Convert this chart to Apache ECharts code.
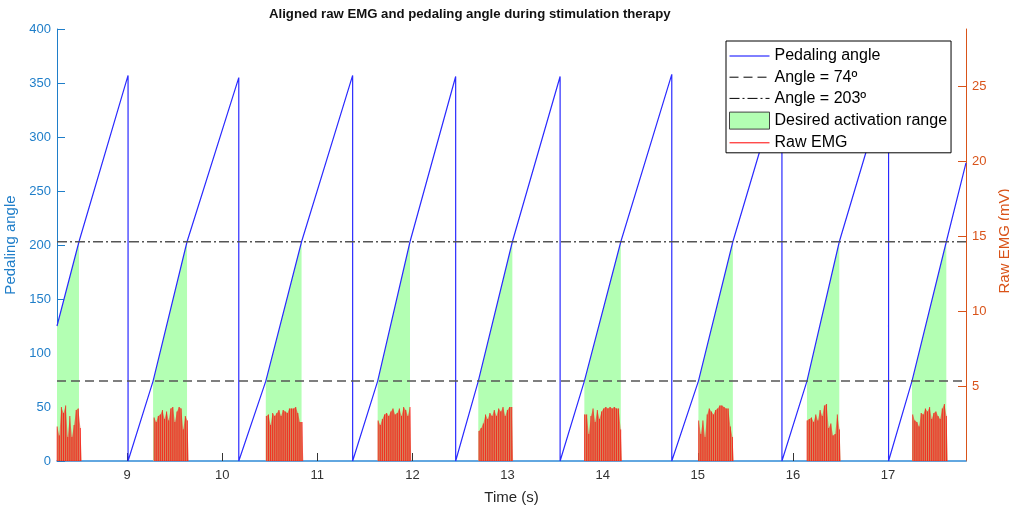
<!DOCTYPE html>
<html>
<head>
<meta charset="utf-8">
<title>Aligned raw EMG and pedaling angle</title>
<script src="https://cdn.jsdelivr.net/npm/echarts@6/dist/echarts.min.js"></script>
<style>
    body { margin: 0; background: #fff; }
    #main { width: 1009px; height: 506px; }
</style>
</head>
<body>
<div id="main"></div>
<script>
    // time axis (s)
    var xMin = 8.264, xMax = 17.82;
    var timeTicks = [9, 10, 11, 12, 13, 14, 15, 16, 17];
    var emgTicks = [5, 10, 15, 20, 25];

    // threshold angles
    var angleLow = 74, angleHigh = 203;

    // pedaling angle: start, crank resets, threshold crossings, end
    var startTime = 8.264, startAngle = 125;
    var resetTimes = [9.011, 10.175, 11.372, 12.455, 13.553, 14.727, 15.885, 17.006];
    var peakAngles = [357, 355, 357, 356, 356, 358, 356, 356];
    var crossLow = [9.274, 10.459, 11.635, 12.693, 13.808, 15.007, 16.148, 17.252];
    var crossHigh = [8.495, 9.631, 10.835, 11.975, 13.051, 14.191, 15.369, 16.488, 17.613];
    var endTime = 17.82, endAngle = 276;

    // raw EMG bursts (mV)
    var emgStart = [8.266, 9.285, 10.465, 11.64, 12.70, 13.81, 15.01, 16.15, 17.26];
    var emgEnd = [8.51, 9.635, 10.84, 11.975, 13.045, 14.19, 15.365, 16.49, 17.615];
    var emg1 = [2.3, 1.7, 3.6, 3.2, 3.7, 1.6, 3.0, 1.6, 2.4, 3.4, 3.5, 2.2];
    var emg2 = [2.9, 2.6, 3.0, 3.1, 3.4, 2.8, 3.3, 2.7, 3.5, 3.6, 2.6, 3.3, 3.6, 3.5, 2.1, 3.0, 2.7];
    var emg3 = [3.0, 3.1, 2.4, 3.2, 3.0, 3.2, 3.4, 3.0, 3.4, 3.3, 3.2, 3.5, 3.5, 3.5, 3.6, 3.2, 2.6, 2.6];
    var emg4 = [2.7, 2.4, 2.8, 3.1, 3.2, 3.0, 3.3, 3.5, 3.1, 3.2, 3.5, 3.0, 3.6, 3.4, 3.0, 3.6];
    var emg5 = [2.0, 2.2, 2.5, 3.1, 2.8, 3.2, 3.0, 3.4, 3.0, 3.5, 3.3, 3.6, 3.0, 3.4, 3.6, 3.6];
    var emg6 = [3.1, 3.1, 1.8, 3.0, 3.5, 2.6, 3.4, 2.8, 3.3, 3.5, 3.6, 3.5, 3.6, 3.5, 3.6, 3.5, 3.5, 2.1];
    var emg7 = [2.7, 1.8, 2.7, 1.6, 3.1, 3.5, 3.3, 3.1, 3.4, 3.5, 3.7, 3.7, 3.6, 3.5, 3.5, 2.3, 1.6];
    var emg8 = [2.7, 2.8, 2.9, 2.6, 3.1, 2.7, 3.4, 3.0, 3.7, 3.8, 2.2, 2.5, 1.7, 1.8, 3.1, 2.1];
    var emg9 = [3.1, 2.7, 2.6, 2.3, 3.2, 3.1, 3.5, 3.3, 3.6, 2.8, 3.2, 3.3, 3.0, 2.8, 3.5, 3.8, 3.0];
    var emgBursts = [emg1, emg2, emg3, emg4, emg5, emg6, emg7, emg8, emg9];

    var font = 'Liberation Sans, Arial, Helvetica, sans-serif';

    // build the series data
    var angleData = [[startTime, startAngle], [crossHigh[0], angleHigh]];
    for (var k = 0; k < resetTimes.length; k++) {
        angleData.push([resetTimes[k], peakAngles[k]]);
        angleData.push([resetTimes[k], 0]);
        angleData.push([crossLow[k], angleLow]);
        angleData.push([crossHigh[k + 1], angleHigh]);
    }
    angleData.push([endTime, endAngle]);

    var rangeData = [[startTime, startAngle], [crossHigh[0], angleHigh], [crossHigh[0], null]];
    for (var k = 0; k < crossLow.length; k++) {
        rangeData.push([crossLow[k], angleLow]);
        rangeData.push([crossHigh[k + 1], angleHigh]);
        rangeData.push([crossHigh[k + 1], null]);
    }

    // spikes as vertical strokes, plus a filled envelope under them
    var emgSpikes = [];
    var emgEnvelope = [];
    for (var b = 0; b < emgBursts.length; b++) {
        var h = emgBursts[b];
        var dt = (emgEnd[b] - emgStart[b]) / (h.length - 1);
        emgEnvelope.push([emgStart[b], 0]);
        for (var i = 0; i < h.length; i++) {
            var t = emgStart[b] + i * dt;
            emgSpikes.push([t, 0], [t, h[i]], [t, 0]);
            emgEnvelope.push([t, h[i]], [t + dt * 0.6, h[i]]);
        }
        var tEnd = emgEnd[b] + dt * 0.6;
        emgSpikes.push([tEnd, 0], [tEnd, null]);
        emgEnvelope.push([tEnd, 0], [tEnd, null]);
    }

    var hideSymbol = { opacity: 0 };

    var myChart = echarts.init(document.getElementById('main'));

    var option = {
        animation: false,
        title: {
            text: 'Aligned raw EMG and pedaling angle during stimulation therapy',
            left: 269,
            top: 8,
            padding: 0,
            textStyle: { fontFamily: font, fontSize: 13.2, fontWeight: 'bold', color: '#111' }
        },
        grid: { left: 57, right: 43, top: 29, bottom: 45, outerBoundsMode: 'none' },
        legend: {
            orient: 'vertical',
            left: 726,
            top: 41,
            itemWidth: 40,
            itemHeight: 17,
            itemGap: 5.2,
            padding: [7, 4, 2, 3],
            borderColor: '#000',
            borderWidth: 1,
            backgroundColor: '#fff',
            textStyle: { fontFamily: font, fontSize: 16, color: '#000' },
            data: [
                { name: 'Pedaling angle', itemStyle: hideSymbol,
                  lineStyle: { color: '#0000ff', width: 1, opacity: 1 } },
                { name: 'Angle = 74º', itemStyle: hideSymbol,
                  lineStyle: { color: '#000', width: 1, opacity: 1 } },
                { name: 'Angle = 203º', itemStyle: hideSymbol,
                  lineStyle: { color: '#000', width: 1, opacity: 1 } },
                { name: 'Desired activation range', icon: 'rect',
                  itemStyle: { color: '#b3ffb3', borderColor: '#444', borderWidth: 1 } },
                { name: 'Raw EMG', itemStyle: hideSymbol,
                  lineStyle: { color: '#ff0000', width: 1, opacity: 1 } }
            ]
        },
        xAxis: {
            type: 'value',
            min: xMin,
            max: xMax,
            name: 'Time (s)',
            nameLocation: 'middle',
            nameGap: 29,
            nameTextStyle: { fontFamily: font, fontSize: 15, color: '#262626' },
            axisLine: { lineStyle: { color: '#2f8ad6', width: 1.5 } },
            axisTick: { inside: true, length: 8, customValues: timeTicks, lineStyle: { color: '#333' } },
            axisLabel: { customValues: timeTicks, margin: 8, fontFamily: font, fontSize: 13, color: '#333' },
            splitLine: { show: false }
        },
        yAxis: [
            {
                type: 'value',
                min: 0,
                max: 400,
                interval: 50,
                name: 'Pedaling angle',
                nameLocation: 'middle',
                nameGap: 34,
                nameTextStyle: { fontFamily: font, fontSize: 15, color: '#1f7ec9' },
                axisLine: { show: true, lineStyle: { color: '#1f7ec9' } },
                axisTick: { inside: true, length: 8 },
                axisLabel: { margin: 6, fontFamily: font, fontSize: 13, color: '#1f7ec9' },
                splitLine: { show: false }
            },
            {
                type: 'value',
                min: 0,
                max: 28.8,
                position: 'right',
                name: 'Raw EMG (mV)',
                nameLocation: 'middle',
                nameGap: 26,
                nameTextStyle: { fontFamily: font, fontSize: 15, color: '#D95319', padding: [0, 0, 0, 8] },
                axisLine: { show: true, lineStyle: { color: '#D95319' } },
                axisTick: { inside: true, length: 8, customValues: emgTicks },
                axisLabel: { customValues: emgTicks, margin: 6, fontFamily: font, fontSize: 13, color: '#D95319' },
                splitLine: { show: false }
            }
        ],
        series: [
            {
                name: 'Desired activation range',
                type: 'line',
                data: rangeData,
                symbol: 'none',
                lineStyle: { width: 0 },
                itemStyle: { color: '#b3ffb3' },
                areaStyle: { color: '#b3ffb3', opacity: 1 },
                z: 1
            },
            {
                name: 'Raw EMG',
                type: 'line',
                yAxisIndex: 1,
                data: emgEnvelope,
                symbol: 'none',
                lineStyle: { width: 0 },
                itemStyle: { color: '#ff0000' },
                areaStyle: { color: '#dc7250', opacity: 0.85, origin: 'start' },
                z: 2
            },
            {
                name: 'Raw EMG',
                type: 'line',
                yAxisIndex: 1,
                data: emgSpikes,
                symbol: 'none',
                lineStyle: { color: 'rgba(255, 0, 0, 0.7)', width: 0.6 },
                itemStyle: { color: '#ff0000' },
                z: 2
            },
            {
                name: 'Pedaling angle',
                type: 'line',
                data: angleData,
                symbol: 'none',
                lineStyle: { color: '#2a2aff', width: 1.2 },
                itemStyle: { color: '#2a2aff' },
                z: 3
            },
            {
                name: 'Angle = 74º',
                type: 'line',
                data: [[xMin, angleLow], [xMax, angleLow]],
                symbol: 'none',
                lineStyle: { color: '#555', width: 1.5, type: [9, 5] },
                itemStyle: { color: '#333' },
                z: 4
            },
            {
                name: 'Angle = 203º',
                type: 'line',
                data: [[xMin, angleHigh], [xMax, angleHigh]],
                symbol: 'none',
                lineStyle: { color: '#555', width: 1.5, type: [10, 3, 2, 3] },
                itemStyle: { color: '#333' },
                z: 4
            }
        ]
    };

    myChart.setOption(option);
</script>
</body>
</html>
